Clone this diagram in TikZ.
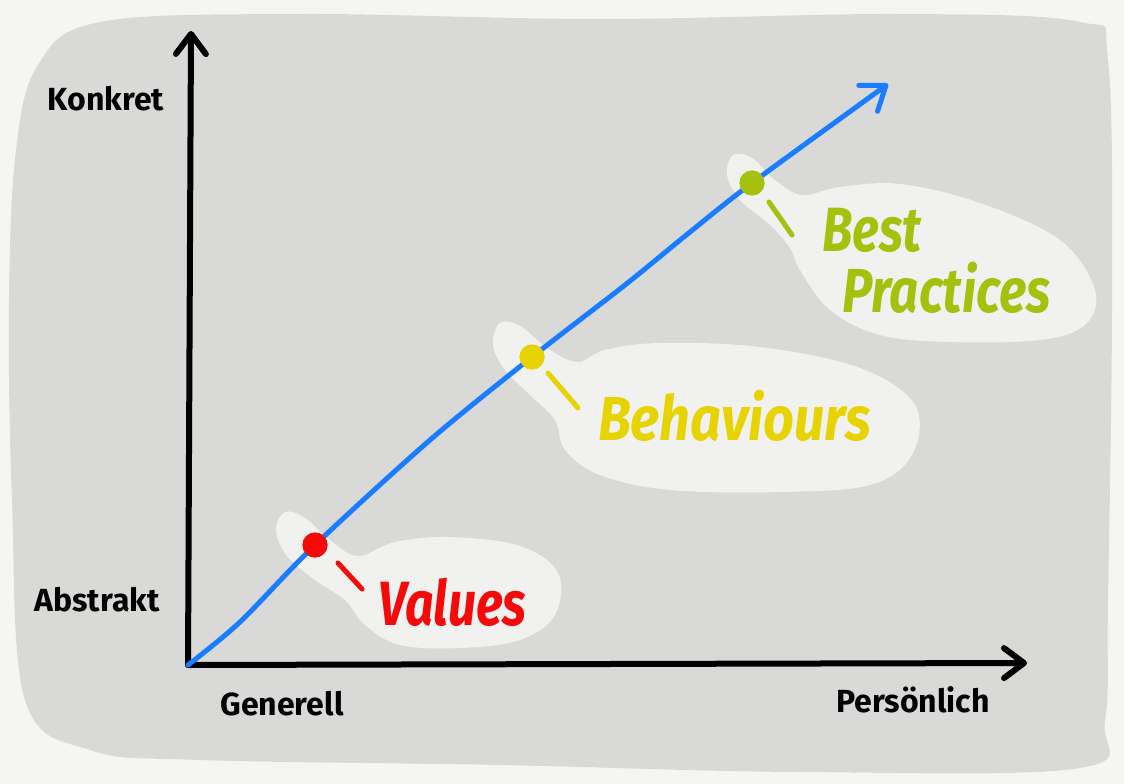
\documentclass[tikz,border=0pt]{standalone}
\usepackage{fontspec}
\setmainfont{Fira Sans}
\usetikzlibrary{arrows.meta}
\definecolor{paper}{HTML}{F5F5F1}
\definecolor{board}{HTML}{D9D9D8}
\definecolor{blob}{HTML}{F1F1F0}
\definecolor{lineblue}{HTML}{1A7CFF}
\definecolor{valred}{HTML}{F50A0A}
\definecolor{behyellow}{HTML}{E6D300}
\definecolor{bpgreen}{HTML}{A5C10E}
\tikzset{
  axisline/.style={line width=6pt, line cap=round, line join=round, black,
    -{Straight Barb[length=20pt,width=30pt,line cap=round,line join=round]}},
  bluecurve/.style={line width=5pt, line cap=round, line join=round, lineblue,
    -{Straight Barb[length=22pt,width=32pt,line cap=round,line join=round]}},
  blobshape/.style={fill=blob, draw=none},
  dotmark/.style={circle, inner sep=0pt, minimum size=25pt, fill=#1},
  tick/.style={line width=5pt, line cap=round, #1},
  axislabel/.style={font=\fontsize{32}{34}\selectfont\bfseries, text=black, inner sep=0pt},
  handlabel/.style={font=\fontsize{#1}{#1}\selectfont\bfseries\itshape, inner sep=0pt, anchor=west},
}
\begin{document}
\begin{tikzpicture}[x=1pt, y=-1pt]
\useasboundingbox (0,0) rectangle (1124,784);
\fill[paper] (0,0) rectangle (1124,784);
% board
\fill[board] plot[smooth cycle, tension=0.6] coordinates {
 (100,22) (300,14) (600,19) (900,14) (1080,22) (1108,60) (1112,300) (1108,600)
 (1105,720) (1080,768) (800,772) (500,765) (200,760) (90,750) (25,700) (12,500)
 (9,300) (16,150) (38,65)};
% blobs
\fill[blobshape] plot[smooth cycle, tension=0.6] coordinates {
 (285,512) (305,518) (330,540) (358,556) (395,542) (450,537) (520,546) (558,573)
 (555,615) (520,640) (460,648) (400,645) (365,625) (345,600) (315,580) (287,556) (276,530)};
\fill[blobshape] plot[smooth cycle, tension=0.6] coordinates {
 (500,323) (520,326) (550,350) (578,362) (605,350) (660,343) (760,347) (860,368)
 (915,405) (912,455) (870,485) (780,492) (670,490) (600,475) (565,450) (555,420)
 (530,395) (505,370) (493,345)};
\fill[blobshape] plot[smooth cycle, tension=0.6] coordinates {
 (733,155) (752,158) (775,180) (802,195) (840,187) (900,184) (980,203) (1060,240)
 (1095,290) (1085,325) (1040,340) (950,342) (880,335) (830,310) (800,270) (790,248)
 (770,225) (740,200) (727,175)};
% axes
\coordinate (O) at (188,665);
\coordinate (ytop) at (191,31);
\coordinate (xend) at (1027,663);
\draw[axisline] (O) -- (ytop);
\draw[axisline] (O) -- (xend);
% curve
\coordinate (c1) at (240,622);
\coordinate (c2) at (430,440);
\coordinate (c3) at (625,285);
\coordinate (c4) at (690,232);
\coordinate (ctip) at (888,84);
\node[dotmark=valred] (val) at (315,545) {};
\node[dotmark=behyellow] (beh) at (532,357) {};
\node[dotmark=bpgreen] (bp) at (752,183) {};
\draw[bluecurve] plot[smooth, tension=0.5] coordinates {(O) (c1) (val.center) (c2) (beh.center) (c3) (c4) (bp.center) (ctip)};
\node[dotmark=valred] at (val) {};
\node[dotmark=behyellow] at (beh) {};
\node[dotmark=bpgreen] at (bp) {};
% ticks
\coordinate (t1a) at (338,563); \coordinate (t1b) at (362,589);
\coordinate (t2a) at (548,373); \coordinate (t2b) at (578,408);
\coordinate (t3a) at (769,202); \coordinate (t3b) at (792,235);
\draw[tick=valred] (t1a) -- (t1b);
\draw[tick=behyellow] (t2a) -- (t2b);
\draw[tick=bpgreen] (t3a) -- (t3b);
% labels
\node[axislabel] (konkret) at (106,99) {Konkret};
\node[axislabel] (abstrakt) at (97,600) {Abstrakt};
\node[axislabel] (generell) at (282,704) {Generell};
\node[axislabel] (persoenlich) at (913,700) {Persönlich};
\node[handlabel=50, text=valred] (values) at (378,602) {\scalebox{1}[1.25]{Values}};
\node[handlabel=54, text=behyellow] (behav) at (598,416) {\scalebox{1}[1.15]{Behaviours}};
\node[handlabel=50, text=bpgreen] (best) at (822,230) {\scalebox{1}[1.25]{Best}};
\node[handlabel=51, text=bpgreen] (pract) at (842,288) {\scalebox{1}[1.22]{Practices}};
\end{tikzpicture}
\end{document}
